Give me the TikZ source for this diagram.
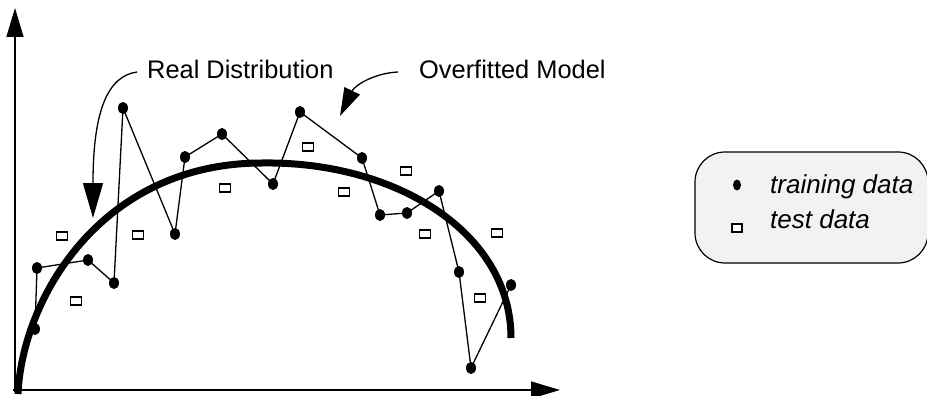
\documentclass[tikz,border=0pt]{standalone}
\usepackage{fontspec}
\setmainfont{Liberation Sans}
\usetikzlibrary{arrows.meta,shapes.geometric}

\tikzset{
  axis/.style={line width=1.5pt, -{Triangle[length=29pt,width=17pt]}},
  callout/.style={line width=1.3pt},
  fit line/.style={line width=1.3pt, line join=round},
  real curve/.style={line width=7pt},
  train/.style={ellipse, fill=black, inner sep=0pt, minimum width=10pt, minimum height=12pt},
  test/.style={rectangle, draw=black, fill=white, line width=1.2pt, inner sep=0pt, minimum width=11pt, minimum height=8pt},
  label/.style={inner sep=0pt, font=\fontsize{25.4}{30}\selectfont},
  key text/.style={inner sep=0pt, anchor=base west, font=\fontsize{26}{30}\selectfont\itshape},
  legend box/.style={draw=black, fill=black!5, line width=1.2pt, rounded corners=30pt},
}

\begin{document}
\begin{tikzpicture}[x=1pt, y=-1pt]
\useasboundingbox (0,0) rectangle (927,396);

% axes
\coordinate (ytip) at (15,8);
\coordinate (xtip) at (560,390);
\coordinate (ybase) at (15,392);
\coordinate (xbase) at (13,390);
\draw[axis] (ybase) -- (ytip);
\draw[axis] (xbase) -- (xtip);

% training samples
\node[train] (t1)  at (35,329) {};
\node[train] (t2)  at (37,268) {};
\node[train] (t3)  at (88,260) {};
\node[train] (t4)  at (114,283) {};
\node[train] (t5)  at (123,108) {};
\node[train] (t6)  at (175,234) {};
\node[train] (t7)  at (185,157) {};
\node[train] (t8)  at (222,134) {};
\node[train] (t9)  at (273,184) {};
\node[train] (t10) at (300,112) {};
\node[train] (t11) at (362,158) {};
\node[train] (t12) at (380,215) {};
\node[train] (t13) at (407,213) {};
\node[train] (t14) at (439,191) {};
\node[train] (t15) at (459,272) {};
\node[train] (t16) at (471,368) {};
\node[train] (t17) at (511,285) {};

% overfitted model through the training samples
\draw[fit line] (t1.center) -- (t2.center) -- (t3.center) -- (t4.center)
  -- (t5.center) -- (t6.center) -- (t7.center) -- (t8.center) -- (t9.center)
  -- (t10.center) -- (t11.center) -- (t12.center) -- (t13.center)
  -- (t14.center) -- (t15.center) -- (t16.center) -- (t17.center);

% test samples
\node[test] (s1)  at (62,236) {};
\node[test] (s2)  at (76,301) {};
\node[test] (s3)  at (138,235) {};
\node[test] (s4)  at (225,188) {};
\node[test] (s5)  at (308,147) {};
\node[test] (s6)  at (344,192) {};
\node[test] (s7)  at (406,171) {};
\node[test] (s8)  at (425,234) {};
\node[test] (s9)  at (480,298) {};
\node[test] (s10) at (497,233) {};

% real distribution
\draw[real curve] (18,394) .. controls (22,300) and (100,163) .. (262,163)
  .. controls (395,161) and (511,232) .. (511,338);

% callouts
\node[label, anchor=base west] (realtext) at (147,79) {Real Distribution};
\node[label, anchor=base west] (fittext) at (419,79) {Overfitted Model};
\coordinate (realstart) at (137,72);
\coordinate (realend) at (93,218);
\coordinate (fitstart) at (398,72);
\coordinate (fitend) at (340,116);
\draw[callout, -{Triangle[length=35pt,width=20pt]}] (realstart)
  .. controls (108,76) and (93,110) .. (realend);
\draw[callout, -{Triangle[length=28pt,width=17pt]}] (fitstart)
  .. controls (375,73) and (355,85) .. (fitend);

% legend
\draw[legend box] (695,152) rectangle (928,263);
\node[train, minimum width=8pt, minimum height=11pt] (ktrain) at (737,185) {};
\node[test, minimum width=10pt] (ktest) at (737,228) {};
\node[key text] (ktraintext) at (770,193) {training data};
\node[key text] (ktesttext) at (770,228) {test data};
\end{tikzpicture}
\end{document}
